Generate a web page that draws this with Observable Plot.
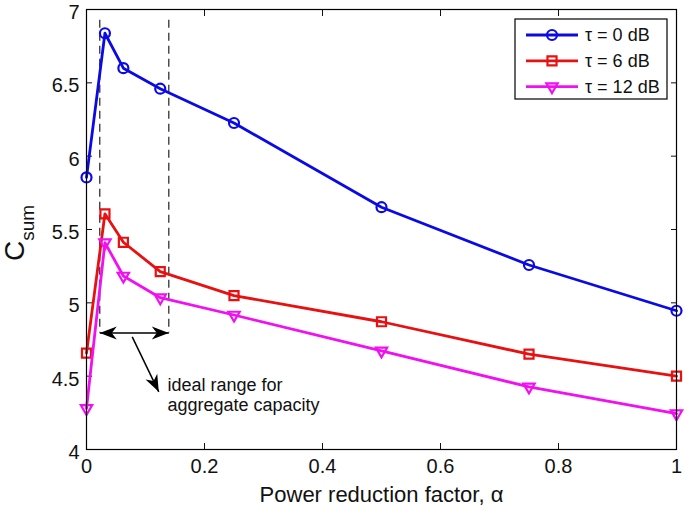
<!DOCTYPE html>
<html><head><meta charset="utf-8">
<script src="https://cdn.jsdelivr.net/npm/d3@7"></script>
<script src="https://cdn.jsdelivr.net/npm/@observablehq/plot@0.6"></script>
<style>body{margin:0;background:#fff;}</style>
</head><body><div id="chart"></div>
<script>
// ---- data ----
const alpha = [0, 0.03125, 0.0625, 0.125, 0.25, 0.5, 0.75, 1];
const seriesNames = ["τ = 0 dB", "τ = 6 dB", "τ = 12 dB"];
const csum0 = [5.855, 6.838, 6.60, 6.46, 6.226, 5.652, 5.258, 4.946];
const csum6 = [4.657, 5.607, 5.413, 5.213, 5.049, 4.871, 4.65, 4.50];
const csum12 = [4.28, 5.41, 5.183, 5.035, 4.917, 4.673, 4.427, 4.245];
const xTicks = [0, 0.2, 0.4, 0.6, 0.8, 1];
const yTicks = [4, 4.5, 5, 5.5, 6, 6.5, 7];
// annotation (data coordinates)
const rangeBounds = [0.0225, 0.1395];
const rangeSpan = [6.927, 4.794];
const arrowY = 4.794;
const pointerFrom = [0.0775, 4.768];
const pointerTo = [0.1225, 4.393];
const noteText = "ideal range for\naggregate capacity";
const notePos = [0.1373, 4.374];

// ---- styles ----
const colors = ["#0a0ae6", "#e81010", "#f010f0"];
const symbols = ["circle", "square", "triangle"];
const radii = [5, 5.1, 4.2];
const W = 685, H = 512, mt = 9, mb = 63, ml = 86, mr = 9;
const yDomain = [4, 7];
const FONT = "'Liberation Sans', Arial, sans-serif";

const values = [csum0, csum6, csum12];
const data = [];
values.forEach((vals, s) => vals.forEach((v, i) => data.push({alpha: alpha[i], csum: v, s})));

const pxPerX = (W - ml - mr) / 1;
const pxPerY = (H - mt - mb) / (yDomain[1] - yDomain[0]);
const pointerAngle = Math.atan2((pointerFrom[1] - pointerTo[1]) * pxPerY, (pointerTo[0] - pointerFrom[0]) * pxPerX) * 180 / Math.PI + 90;

const arrowHead = {draw(ctx) { ctx.moveTo(0, 0); ctx.lineTo(6.5, 17); ctx.lineTo(0, 12); ctx.lineTo(-6.5, 17); ctx.closePath(); }};

const marks = [
  Plot.axisX(xTicks, {anchor: "bottom", tickSize: -6, tickPadding: 15, fontSize: 20, label: null, tickFormat: d => String(d)}),
  Plot.axisX(xTicks, {anchor: "top", tickSize: -6, label: null, tickFormat: () => ""}),
  Plot.axisY(yTicks, {anchor: "left", tickSize: -6, label: null, tickFormat: () => ""}),
  Plot.axisY(yTicks, {anchor: "left", tickSize: 0, tickPadding: 7, fontSize: 20, dy: 3, label: null, tickFormat: d => String(d)}),
  Plot.axisY(yTicks, {anchor: "right", tickSize: -6, label: null, tickFormat: () => ""}),
  Plot.ruleX(rangeBounds, {x: d => d, y1: rangeSpan[0], y2: rangeSpan[1], stroke: "#222", strokeWidth: 1.2, strokeDasharray: "8,5"}),
  Plot.link([0], {x1: rangeBounds[0], x2: rangeBounds[1], y1: arrowY, y2: arrowY, stroke: "black", strokeWidth: 1.5}),
  Plot.dot(rangeBounds, {x: d => d, y: () => arrowY, symbol: arrowHead, rotate: (d, i) => i === 0 ? -90 : 90, fill: "black", stroke: null}),
  Plot.link([0], {x1: pointerFrom[0], y1: pointerFrom[1], x2: pointerTo[0], y2: pointerTo[1], stroke: "black", strokeWidth: 1.5}),
  Plot.dot([0], {x: pointerTo[0], y: pointerTo[1], symbol: arrowHead, rotate: pointerAngle, fill: "black", stroke: null}),
  Plot.text([noteText], {x: notePos[0], y: notePos[1], text: d => d, textAnchor: "start", lineAnchor: "middle", lineHeight: 1.08, fontSize: 18, fill: "#111"}),
];
values.forEach((vals, s) => {
  const sub = data.filter(d => d.s === s);
  marks.push(Plot.line(sub, {x: "alpha", y: "csum", stroke: colors[s], strokeWidth: 2.8}));
  marks.push(Plot.dot(sub, {x: "alpha", y: "csum", symbol: symbols[s], r: radii[s], stroke: colors[s], strokeWidth: 2.2, fill: "none", rotate: s === 2 ? 180 : 0}));
});
marks.push(Plot.frame({stroke: "black", strokeWidth: 1.2}));
marks.push(Plot.text(["Power reduction factor, α"], {frameAnchor: "bottom", dy: 52, lineAnchor: "bottom", fontSize: 22, fill: "#111"}));

const chart = Plot.plot({
  width: W, height: H,
  marginTop: mt, marginBottom: mb, marginLeft: ml, marginRight: mr,
  style: {fontFamily: FONT, color: "#111", background: "white"},
  x: {domain: [0, 1], axis: null},
  y: {domain: yDomain, axis: null},
  marks
});
document.getElementById("chart").appendChild(chart);

const svg = d3.select(chart);
// y label with subscript
const yl = svg.append("text")
  .attr("transform", `translate(24, 233) rotate(-90)`)
  .attr("text-anchor", "middle")
  .attr("fill", "#111")
  .style("font-family", FONT);
yl.append("tspan").attr("font-size", 28).text("C");
yl.append("tspan").attr("font-size", 19).attr("dy", 10).text("sum");

// legend inside the plot
const lg = svg.append("g").style("font-family", FONT).attr("text-anchor", "start");
const lx = W - mr - 161, ly = mt + 10;
lg.append("rect").attr("x", lx).attr("y", ly).attr("width", 152).attr("height", 80)
  .attr("fill", "white").attr("stroke", "black").attr("stroke-width", 1.2);
seriesNames.forEach((name, i) => {
  const cy = ly + 16 + i * 25.8;
  lg.append("line").attr("x1", lx + 11).attr("x2", lx + 63).attr("y1", cy).attr("y2", cy)
    .attr("stroke", colors[i]).attr("stroke-width", 2.8);
  const sym = [d3.symbolCircle, d3.symbolSquare, d3.symbolTriangle][i];
  lg.append("path").attr("d", d3.symbol(sym, radii[i] * radii[i] * Math.PI)())
    .attr("transform", `translate(${lx + 37},${cy}) rotate(${i === 2 ? 180 : 0})`)
    .attr("fill", "none").attr("stroke", colors[i]).attr("stroke-width", 2.2);
  lg.append("text").attr("x", lx + 70).attr("y", cy).attr("dy", "0.35em")
    .attr("text-anchor", "start")
    .attr("font-size", 18).attr("fill", "#111").text(name);
});
</script>
</body></html>
